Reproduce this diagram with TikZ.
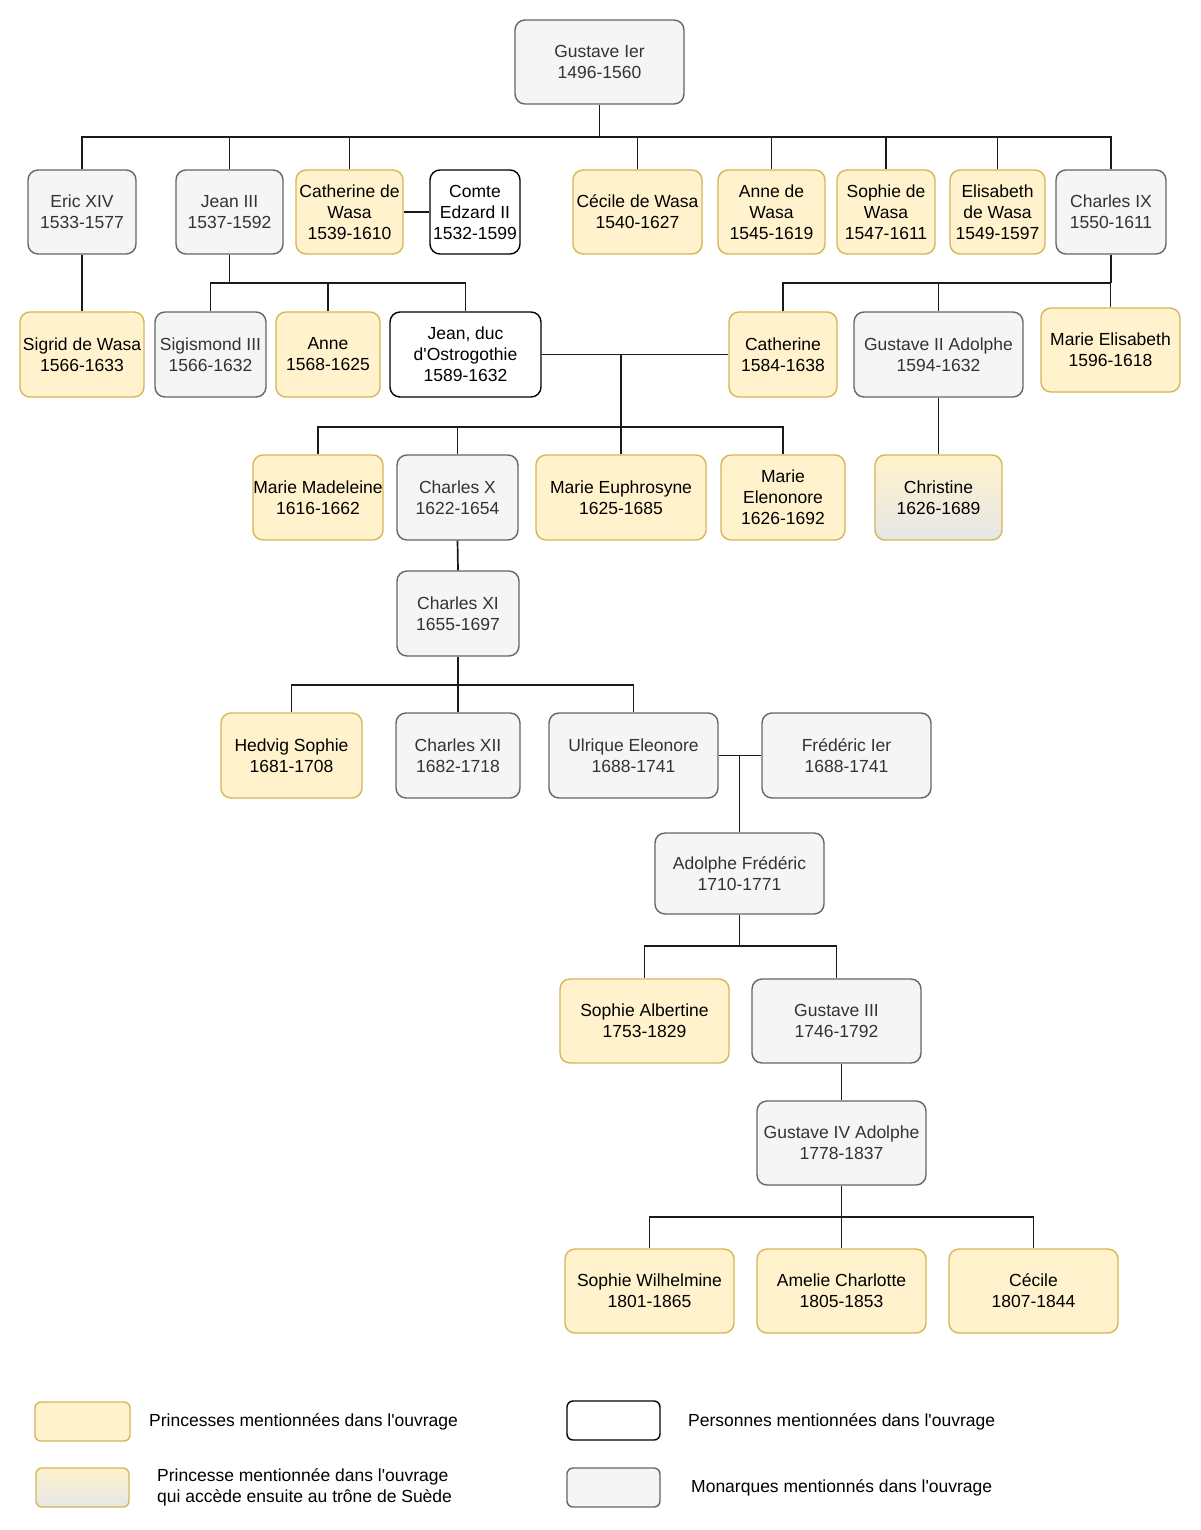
\documentclass[tikz,border=0pt]{standalone}
\usepackage{fontspec}
\setmainfont{Liberation Sans}[Ligatures=TeXOff]
\definecolor{pfill}{HTML}{FFF2CC}
\definecolor{pdraw}{HTML}{D6B656}
\definecolor{mfill}{HTML}{F5F5F5}
\definecolor{mdraw}{HTML}{666666}
\definecolor{mtext}{HTML}{333333}
\definecolor{gbot}{HTML}{E6E6E6}
\definecolor{linec}{HTML}{1A1A1A}
\begin{document}
\begin{tikzpicture}[x=1pt,y=-1pt,
  every node/.style={font=\fontsize{17.5}{21}\selectfont, align=center, inner sep=0pt},
  base/.style={rounded corners=10pt, line width=1.4pt},
  princess/.style={base, fill=pfill, draw=pdraw, text=black},
  monarch/.style={base, fill=mfill, draw=mdraw, text=mtext},
  person/.style={base, fill=white, draw=black, text=black},
  heir/.style={base, draw=pdraw, top color=pfill, bottom color=gbot, text=black},
  sz/.style 2 args={minimum width=#1, minimum height=#2},
  link/.style={draw=linec, line width=1.7pt},
  legtext/.style={anchor=west, align=left}
]
\useasboundingbox (0,0) rectangle (1200,1530);
\fill[white] (0,0) rectangle (1200,1530);

% Generation 1
\node[monarch, sz={169}{84}] (gus) at (599.5,62) {Gustave Ier\\1496-1560};

% Generation 2
\node[monarch, sz={108}{84}] (eric) at (82,212) {Eric XIV\\1533-1577};
\node[monarch, sz={107}{84}] (jean3) at (229.5,212) {Jean III\\1537-1592};
\node[princess, sz={107}{84}] (cathw) at (349.5,212) {Catherine de\\Wasa\\1539-1610};
\node[person, sz={90}{84}] (edzard) at (475,212) {Comte\\Edzard II\\1532-1599};
\node[princess, sz={129}{84}] (cecw) at (637.5,212) {Cécile de Wasa\\1540-1627};
\node[princess, sz={107}{84}] (annew) at (771.5,212) {Anne de\\Wasa\\1545-1619};
\node[princess, sz={98}{84}] (sophw) at (886,212) {Sophie de\\Wasa\\1547-1611};
\node[princess, sz={95}{84}] (elisw) at (997.5,212) {Elisabeth\\de Wasa\\1549-1597};
\node[monarch, sz={110}{84}] (ch9) at (1111,212) {Charles IX\\1550-1611};

% Generation 3
\node[princess, sz={124}{85}] (sigrid) at (82,354.5) {Sigrid de Wasa\\1566-1633};
\node[monarch, sz={111}{85}] (sigis) at (210.5,354.5) {Sigismond III\\1566-1632};
\node[princess, sz={104}{85}] (anne) at (328,354.5) {Anne\\1568-1625};
\node[person, sz={151}{85}] (jeanduc) at (465.5,354.5) {Jean, duc\\d'Ostrogothie\\1589-1632};
\node[princess, sz={108}{85}] (cath) at (783,354.5) {Catherine\\1584-1638};
\node[monarch, sz={169}{85}] (gus2) at (938.5,354.5) {Gustave II Adolphe\\1594-1632};
\node[princess, sz={139}{84}] (mariee) at (1110.5,350) {Marie Elisabeth\\1596-1618};

% Generation 4
\node[princess, sz={130}{85}] (madel) at (318,497.5) {Marie Madeleine\\1616-1662};
\node[monarch, sz={121}{85}] (ch10) at (457.5,497.5) {Charles X\\1622-1654};
\node[princess, sz={170}{85}] (euph) at (621,497.5) {Marie Euphrosyne\\1625-1685};
\node[princess, sz={124}{85}] (elen) at (783,497.5) {Marie\\Elenonore\\1626-1692};
\node[heir, sz={127}{85}] (christ) at (938.5,497.5) {Christine\\1626-1689};

% Generation 5
\node[monarch, sz={122}{85}] (ch11) at (458,613.5) {Charles XI\\1655-1697};

% Generation 6
\node[princess, sz={141}{85}] (hedvig) at (291.5,755.5) {Hedvig Sophie\\1681-1708};
\node[monarch, sz={124}{85}] (ch12) at (458,755.5) {Charles XII\\1682-1718};
\node[monarch, sz={169}{85}] (ulr) at (633.5,755.5) {Ulrique Eleonore\\1688-1741};
\node[monarch, sz={169}{85}] (fred) at (846.5,755.5) {Frédéric Ier\\1688-1741};

% Generation 7
\node[monarch, sz={169}{81}] (adol) at (739.5,873.5) {Adolphe Frédéric\\1710-1771};

% Generation 8
\node[princess, sz={169}{84}] (salb) at (644.5,1021) {Sophie Albertine\\1753-1829};
\node[monarch, sz={169}{84}] (gus3) at (836.5,1021) {Gustave III\\1746-1792};

% Generation 9
\node[monarch, sz={169}{84}] (gus4) at (841.5,1143) {Gustave IV Adolphe\\1778-1837};

% Generation 10
\node[princess, sz={169}{84}] (swil) at (649.5,1291) {Sophie Wilhelmine\\1801-1865};
\node[princess, sz={169}{84}] (amel) at (841.5,1291) {Amelie Charlotte\\1805-1853};
\node[princess, sz={169}{84}] (cec) at (1033.5,1291) {Cécile\\1807-1844};

% ---- connectors
\coordinate (b1) at (0,137);
\draw[link] (gus.south) -- (gus.south |- b1);
\draw[link] (eric.north) |- (ch9.north |- b1) -- (ch9.north);
\foreach \n in {jean3,cathw,cecw,annew,sophw,elisw}
  \draw[link] (\n.north) -- (\n.north |- b1);
\draw[link] (cathw.east) -- (edzard.west);

\draw[link] (eric.south) -- (sigrid.north);

\coordinate (b2) at (0,283);
\draw[link] (jean3.south) -- (jean3.south |- b2);
\draw[link] (sigis.north) |- (jeanduc.north |- b2) -- (jeanduc.north);
\draw[link] (anne.north) -- (anne.north |- b2);

\draw[link] (ch9.south) -- (ch9.south |- b2);
\draw[link] (cath.north) |- (mariee.north |- b2) -- (mariee.north);
\draw[link] (gus2.north) -- (gus2.north |- b2);

\draw[link] (jeanduc.east) -- (cath.west);
\coordinate (m1) at (621,354.5);
\coordinate (b3) at (0,427);
\draw[link] (m1) -- (m1 |- b3);
\draw[link] (madel.north) |- (elen.north |- b3) -- (elen.north);
\draw[link] (ch10.north) -- (ch10.north |- b3);
\draw[link] (euph.north) -- (euph.north |- b3);

\draw[link] (gus2.south) -- (christ.north);
\draw[link] (ch10.south) -- (ch11.north);

\coordinate (b4) at (0,685);
\draw[link] (ch11.south) -- (ch11.south |- b4);
\draw[link] (hedvig.north) |- (ulr.north |- b4) -- (ulr.north);
\draw[link] (ch12.north) -- (ch12.north |- b4);

\draw[link] (ulr.east) -- (fred.west);
\draw[link] (adol.north) -- (adol.north |- ulr.east);

\coordinate (b5) at (0,946);
\draw[link] (adol.south) -- (adol.south |- b5);
\draw[link] (salb.north) |- (gus3.north |- b5) -- (gus3.north);

\draw[link] (gus4.north) -- (gus4.north |- gus3.south);

\coordinate (b6) at (0,1217);
\draw[link] (gus4.south) -- (gus4.south |- b6);
\draw[link] (swil.north) |- (cec.north |- b6) -- (cec.north);
\draw[link] (amel.north) -- (amel.north |- b6);

% ---- legend
\node[princess, rounded corners=6pt, sz={95}{39}] (lg1) at (82.5,1421.5) {};
\node[legtext] (lt1) at (149,1421.5) {Princesses mentionnées dans l'ouvrage};
\node[heir, rounded corners=6pt, sz={93}{39}] (lg2) at (82.5,1487.5) {};
\node[legtext] (lt2) at (157,1487.5) {Princesse mentionnée dans l'ouvrage\\qui accède ensuite au trône de Suède};
\node[person, rounded corners=6pt, sz={93}{39}] (lg3) at (613.5,1420.5) {};
\node[legtext] (lt3) at (688,1421.5) {Personnes mentionnées dans l'ouvrage};
\node[monarch, rounded corners=6pt, sz={93}{39}] (lg4) at (613.5,1487.5) {};
\node[legtext] (lt4) at (691,1487.5) {Monarques mentionnés dans l'ouvrage};
\end{tikzpicture}
\end{document}
